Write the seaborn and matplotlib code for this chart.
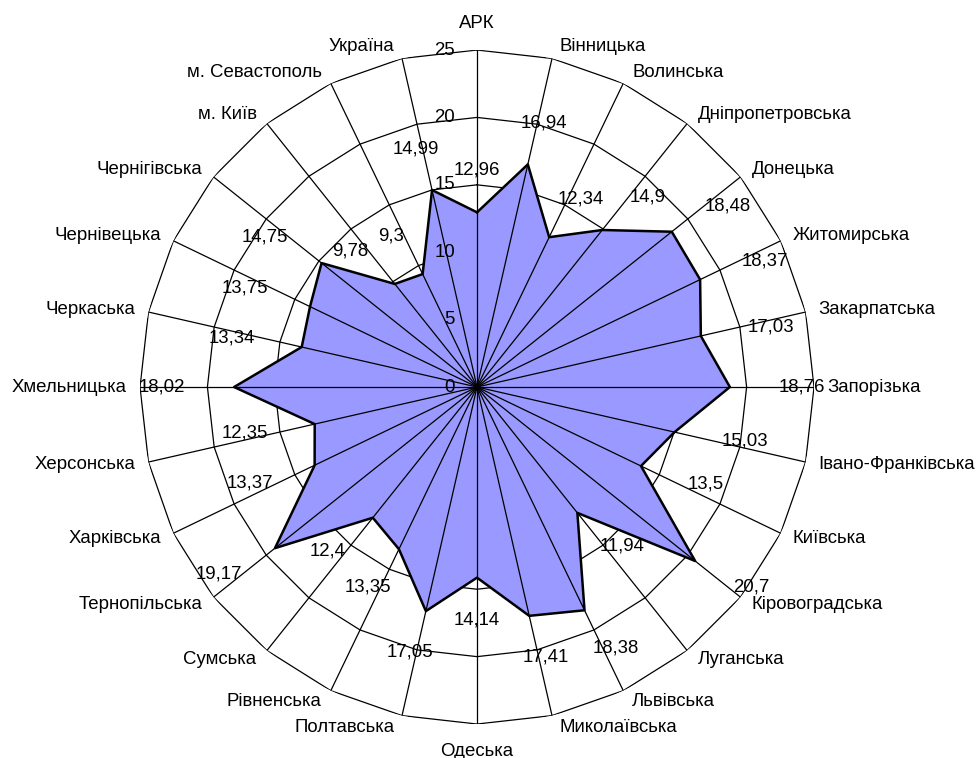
import numpy as np
import matplotlib
matplotlib.use("Agg")
import matplotlib.pyplot as plt
import seaborn as sns

categories = ["АРК", "Вінницька", "Волинська", "Дніпропетровська", "Донецька",
              "Житомирська", "Закарпатська", "Запорізька", "Івано-Франківська",
              "Київська", "Кіровоградська", "Луганська", "Львівська",
              "Миколаївська", "Одеська", "Полтавська", "Рівненська", "Сумська",
              "Тернопільська", "Харківська", "Херсонська", "Хмельницька",
              "Черкаська", "Чернівецька", "Чернігівська", "м. Київ",
              "м. Севастополь", "Україна"]
values = [12.96, 16.94, 12.34, 14.9, 18.48, 18.37, 17.03, 18.76, 15.03, 13.5,
          20.7, 11.94, 18.38, 17.41, 14.14, 17.05, 13.35, 12.4, 19.17, 13.37,
          12.35, 18.02, 13.34, 13.75, 14.75, 9.78, 9.3, 14.99]
radial_ticks = [0, 5, 10, 15, 20, 25]

sns.set_theme(style="white")
plt.rcParams["font.family"] = ["Liberation Sans", "DejaVu Sans"]
plt.rcParams["text.color"] = "black"
FS = 13.4
PT = 0.72  # px -> pt at 100 dpi

fig = plt.figure(figsize=(9.79, 7.58), dpi=100)
fig.patch.set_facecolor("white")
ax = fig.add_axes([0.1430, 0.0448, 0.6885, 0.8892], projection="polar")
ax.set_theta_zero_location("N")
ax.set_theta_direction(-1)
ax.set_ylim(0, radial_ticks[-1])
ax.set_axis_off()

n = len(categories)
theta = np.arange(n) * 2 * np.pi / n
theta_c = np.append(theta, theta[0])

# polygon gridlines
for r in radial_ticks[1:]:
    ax.plot(theta_c, [r] * (n + 1), color="black", lw=0.9, zorder=1)

# data area
vals_c = np.append(values, values[0])
ax.fill(theta_c, vals_c, facecolor="#9999FF", edgecolor="none", zorder=2)
sns.lineplot(x=theta_c, y=vals_c, sort=False, estimator=None, ax=ax,
             color="black", lw=1.8, zorder=4)

# spokes
for t in theta:
    ax.plot([t, t], [0, radial_ticks[-1]], color="black", lw=0.9, zorder=3)

# radial tick labels
for r in radial_ticks:
    ax.annotate(str(r), xy=(0, r), xytext=(-22 * PT, 0), textcoords="offset points",
                ha="right", va="center", fontsize=FS, color="black", zorder=5)

# data labels
for t, v in zip(theta, values):
    s, c = np.sin(t), np.cos(t)
    txt = f"{v:g}".replace(".", ",")
    ax.annotate(txt, xy=(t, v), xytext=(72 * s * PT, 42 * c * PT),
                textcoords="offset points", ha="center", va="center",
                fontsize=FS, color="black", zorder=5)

# category labels
for t, name in zip(theta, categories):
    s, c = np.sin(t), np.cos(t)
    if abs(s) < 0.05:
        ha, dx, dy = "center", 0, 27 * np.sign(c)
    else:
        ha = "left" if s > 0 else "right"
        dx, dy = (6 + 7 * abs(s)) * np.sign(s), 12 * c
    ax.annotate(name, xy=(t, radial_ticks[-1]), xytext=(dx * PT, dy * PT),
                textcoords="offset points", ha=ha, va="center", fontsize=FS,
                color="black", annotation_clip=False, zorder=5)

fig.savefig("out.png", dpi=100)
